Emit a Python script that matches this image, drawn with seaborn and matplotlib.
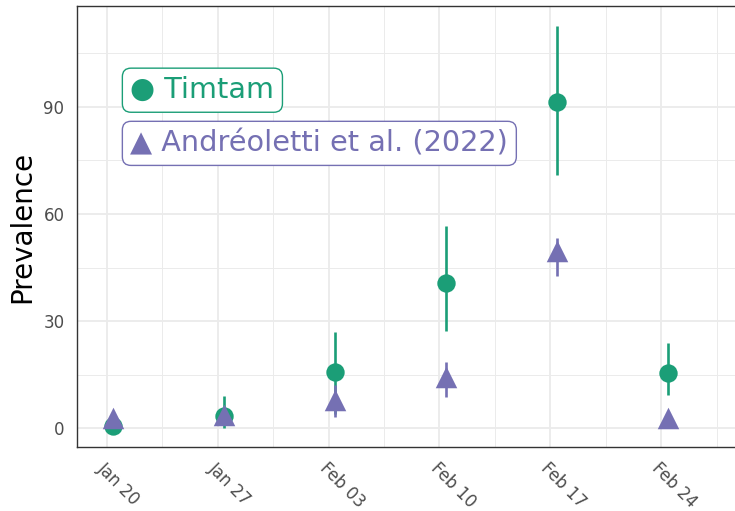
import seaborn as sns
import matplotlib.pyplot as plt
import matplotlib.dates as mdates
import matplotlib.ticker as mtick
import pandas as pd

# weekly prevalence estimates (points sit ~10h after the week tick)
dates = ['2020-01-20 10:00', '2020-01-27 10:00', '2020-02-03 10:00',
         '2020-02-10 10:00', '2020-02-17 10:00', '2020-02-24 10:00']
timtam_mid = [0.5, 3.5, 15.8, 40.7, 91.5, 15.4]
timtam_lo = [0.5, 0.1, 4.0, 27.2, 70.9, 9.2]
timtam_hi = [0.5, 9.0, 26.8, 56.6, 112.7, 23.8]
andre_mid = [2.8, 3.6, 7.9, 14.2, 49.6, 2.9]
andre_lo = [2.8, 2.0, 3.2, 8.6, 42.6, 2.9]
andre_hi = [2.8, 5.0, 12.0, 18.5, 53.3, 2.9]
tick_dates = ['2020-01-20', '2020-01-27', '2020-02-03', '2020-02-10', '2020-02-17', '2020-02-24']

green, purple = '#1B9E77', '#7570B3'

df = pd.DataFrame({'date': pd.to_datetime(dates * 2),
                   'mid': timtam_mid + andre_mid,
                   'lo': timtam_lo + andre_lo,
                   'hi': timtam_hi + andre_hi,
                   'source': ['Timtam'] * 6 + ['Andréoletti et al. (2022)'] * 6})

sns.set_style('white')
settings = {'figure.figsize': [7.35, 5.11], 'figure.dpi': 100, 'savefig.dpi': 100,
            'font.family': 'DejaVu Sans',
            'axes.grid': True, 'axes.grid.which': 'both', 'grid.color': '#EBEBEB',
            'axes.edgecolor': '#333333', 'xtick.color': '#333333', 'ytick.color': '#333333',
            'xtick.labelcolor': '#4D4D4D', 'ytick.labelcolor': '#4D4D4D',
            'xtick.labelsize': 12, 'ytick.labelsize': 12,
            'xtick.major.size': 5.5, 'ytick.major.size': 5.5,
            'xtick.major.width': 1.4, 'ytick.major.width': 1.4}
with plt.rc_context(settings):
    fig = plt.figure()
    ax = fig.add_axes([77 / 735, 1 - 447 / 511, 1 - 77 / 735, (447 - 6) / 511])

    tt = df[df.source == 'Timtam']
    an = df[df.source != 'Timtam']
    ax.vlines(tt.date, tt.lo, tt.hi, color=green, lw=1.9, zorder=3)
    sns.scatterplot(data=tt, x='date', y='mid', color=green, marker='o', s=175,
                    linewidth=0, ax=ax, zorder=4, legend=False)
    ax.vlines(an.date, an.lo, an.hi, color=purple, lw=1.9, zorder=5)
    sns.scatterplot(data=an, x='date', y='mid', color=purple, marker='^', s=240,
                    linewidth=0, ax=ax, zorder=6, legend=False)

    ticks = pd.to_datetime(tick_dates)
    ax.set_xticks(ticks)
    ax.xaxis.set_major_formatter(mdates.DateFormatter('%b %d'))
    ax.xaxis.set_minor_locator(mtick.FixedLocator(mdates.date2num(ticks) + 3.5))
    ax.set_xlim(mdates.date2num(ticks[0]) - 1.87, mdates.date2num(ticks[-1]) + 4.65)
    ax.set_ylim(-5.3, 118.3)
    ax.yaxis.set_major_locator(mtick.MultipleLocator(30))
    ax.yaxis.set_minor_locator(mtick.MultipleLocator(15))
    ax.tick_params(which='minor', length=0)
    ax.tick_params(axis='x', pad=3)
    ax.grid(which='major', lw=1.3)
    ax.grid(which='minor', lw=0.7)
    ax.set_axisbelow(True)
    for lab in ax.get_xticklabels():
        lab.set_rotation(-45)
        lab.set_ha('left')
        lab.set_va('top')
        lab.set_rotation_mode('anchor')

    ax.spines['right'].set_visible(False)
    for s in ['left', 'bottom', 'top']:
        ax.spines[s].set_linewidth(1.0)

    ax.set_xlabel('')
    ax.set_ylabel('Prevalence', fontsize=20, color='black', labelpad=5)

    lx = mdates.date2num(ticks[0]) + 1.5
    box = 'round,pad=0.28,rounding_size=0.3'
    ax.text(lx, 94.7, '● Timtam', color=green, fontsize=20.7, ha='left', va='center',
            bbox=dict(boxstyle=box, fc='white', ec=green, lw=1))
    ax.text(lx, 79.8, '▲ Andréoletti et al. (2022)', color=purple, fontsize=20.7, ha='left', va='center',
            bbox=dict(boxstyle=box, fc='white', ec=purple, lw=1))

    plt.savefig('out.png')
    plt.close()
